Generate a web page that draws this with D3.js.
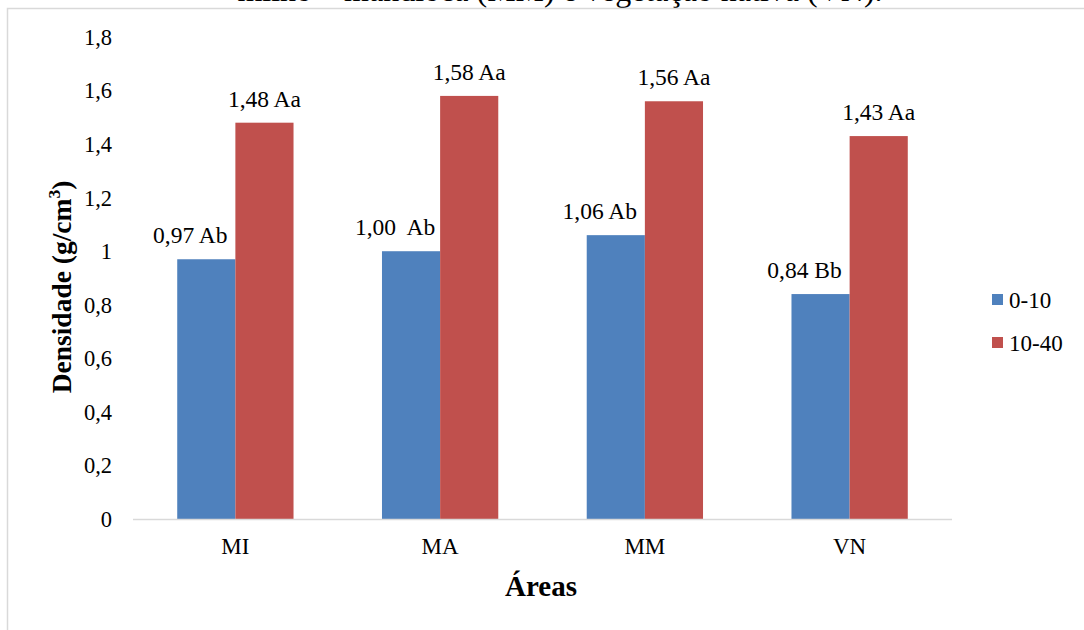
<!DOCTYPE html>
<html>
<head>
<meta charset="utf-8">
<script src="https://cdn.jsdelivr.net/npm/d3@7"></script>
<style>
  html, body { margin: 0; padding: 0; background: #fff; }
  svg { display: block; font-family: "Liberation Serif", "Times New Roman", serif; }
</style>
</head>
<body>
<svg id="chart" width="1084" height="630"></svg>
<script>
// Soil bulk density by area and depth
const categories = ["MI", "MA", "MM", "VN"];
const seriesNames = ["0-10", "10-40"];
const depth0_10 = [0.97, 1.00, 1.06, 0.84];
const depth10_40 = [1.48, 1.58, 1.56, 1.43];
const labels0_10 = ["0,97 Ab", "1,00  Ab", "1,06 Ab", "0,84 Bb"];
const labels10_40 = ["1,48 Aa", "1,58 Aa", "1,56 Aa", "1,43 Aa"];
const yTicks = [0, 0.2, 0.4, 0.6, 0.8, 1, 1.2, 1.4, 1.6, 1.8];
const colors = ["#4f81bd", "#c0504d"];

const svg = d3.select("#chart");
const fmt = v => String(v).replace(".", ",");

// caption line cut at the top of the frame
svg.append("text")
  .attr("x", 560).attr("y", 1)
  .attr("text-anchor", "middle")
  .attr("font-size", 32)
  .text("milho – mandioca (MM) e vegetação nativa (VN).");

// chart frame
svg.append("rect")
  .attr("x", 7.5).attr("y", 8.5)
  .attr("width", 1090).attr("height", 640)
  .attr("fill", "#fff")
  .attr("stroke", "#d9d9d9")
  .attr("stroke-width", 1.5);

const plot = { left: 133, right: 952, top: 37, bottom: 519 };

const x = d3.scaleBand().domain(categories).range([plot.left, plot.right]);
const y = d3.scaleLinear().domain([0, 1.8]).range([plot.bottom, plot.top]);
const barW = x.bandwidth() * 0.284;

// y tick labels
svg.append("g")
  .selectAll("text")
  .data(yTicks)
  .join("text")
  .attr("x", 112)
  .attr("y", d => y(d))
  .attr("dy", "0.35em")
  .attr("text-anchor", "end")
  .attr("font-size", 22.5)
  .text(d => fmt(d));

// bars
const series = [depth0_10, depth10_40];
const seriesLabels = [labels0_10, labels10_40];
series.forEach((vals, s) => {
  const g = svg.append("g");
  g.selectAll("rect")
    .data(vals)
    .join("rect")
    .attr("x", (d, i) => x(categories[i]) + x.bandwidth() / 2 - barW + s * barW)
    .attr("y", d => y(d))
    .attr("width", barW)
    .attr("height", d => y(0) - y(d))
    .attr("fill", colors[s]);
  g.selectAll("text")
    .data(vals)
    .join("text")
    .attr("x", (d, i) => x(categories[i]) + x.bandwidth() / 2 - barW + s * barW + barW / 2 + (s === 0 ? -16 : 0))
    .attr("y", d => y(d) - 16)
    .attr("text-anchor", "middle")
    .attr("font-size", 23.5)
    .style("white-space", "pre")
    .text((d, i) => seriesLabels[s][i]);
});

// baseline
svg.append("line")
  .attr("x1", plot.left).attr("x2", plot.right)
  .attr("y1", y(0) + 0.5).attr("y2", y(0) + 0.5)
  .attr("stroke", "#d9d9d9").attr("stroke-width", 1.5);

// category labels
svg.append("g")
  .selectAll("text")
  .data(categories)
  .join("text")
  .attr("x", d => x(d) + x.bandwidth() / 2)
  .attr("y", 554)
  .attr("text-anchor", "middle")
  .attr("font-size", 23)
  .text(d => d);

// axis titles
svg.append("text")
  .attr("x", 541).attr("y", 596)
  .attr("text-anchor", "middle")
  .attr("font-size", 29)
  .attr("font-weight", "bold")
  .text("Áreas");

const yTitle = svg.append("text")
  .attr("transform", "translate(71,287) rotate(-90)")
  .attr("text-anchor", "middle")
  .attr("font-size", 27.5)
  .attr("font-weight", "bold");
yTitle.append("tspan").text("Densidade (g/cm");
yTitle.append("tspan").attr("font-size", 17.5).attr("dy", -11).text("3");
yTitle.append("tspan").attr("dy", 11).text(")");

// legend
const legend = svg.append("g");
seriesNames.forEach((name, i) => {
  const ly = 300 + i * 43;
  legend.append("rect")
    .attr("x", 992).attr("y", ly - 6)
    .attr("width", 11).attr("height", 11)
    .attr("fill", colors[i]);
  legend.append("text")
    .attr("x", 1009).attr("y", ly)
    .attr("dy", "0.35em")
    .attr("font-size", 23)
    .text(name);
});
</script>
</body>
</html>
